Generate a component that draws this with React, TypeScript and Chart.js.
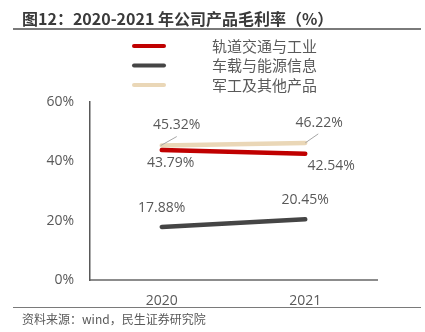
import { useEffect, useRef } from 'react';
import { Chart, registerables } from 'chart.js';

Chart.register(...registerables);

const categories = ['2020', '2021'];
const seriesNames = ['轨道交通与工业', '车载与能源信息', '军工及其他产品'];
const railValues = [43.79, 42.54];
const vehicleValues = [17.88, 20.45];
const militaryValues = [45.32, 46.22];
const yTickValues = [0, 20, 40, 60];

const titleText = '图12：2020-2021 年公司产品毛利率（%）';
const sourceText = '资料来源：wind，民生证券研究院';

const FONT = '"Open Sans", "Noto Sans CJK SC", sans-serif';
const CJK = '"Noto Sans CJK SC", sans-serif';
const TEXT = '#595959';

// label offsets (style) per dataset, per point
const labelOffsets = [
  [[9, 13], [26, 12]],
  [[0, -19], [0, -19]],
  [[15, -20.5], [14, -20]],
];

const labelPlugin = {
  id: 'valueLabels',
  afterDatasetsDraw(chart: any) {
    const ctx = chart.ctx;
    ctx.save();
    ctx.font = `14px ${FONT}`;
    ctx.fillStyle = TEXT;
    ctx.textAlign = 'center';
    ctx.textBaseline = 'middle';
    chart.data.datasets.forEach((ds: any, di: number) => {
      const meta = chart.getDatasetMeta(di);
      meta.data.forEach((pt: any, i: number) => {
        const [dx, dy] = labelOffsets[di][i];
        const v = ds.data[i] as number;
        ctx.fillText(v.toFixed(2) + '%', pt.x + dx, pt.y + dy);
        if (di === 2) {
          ctx.strokeStyle = '#a6a6a6';
          ctx.lineWidth = 1;
          ctx.beginPath();
          ctx.moveTo(pt.x + (i === 0 ? -1 : 0), pt.y);
          ctx.lineTo(pt.x + (i === 0 ? 15 : 13), pt.y - 9);
          ctx.stroke();
        }
      });
    });
    ctx.restore();
  },
};

const legendPlugin = {
  id: 'customLegend',
  afterDraw(chart: any) {
    const ctx = chart.ctx;
    ctx.save();
    chart.data.datasets.forEach((ds: any, i: number) => {
      const y = 46 + i * 19.5;
      ctx.strokeStyle = ds.borderColor;
      ctx.lineWidth = 4;
      ctx.lineCap = 'round';
      ctx.beginPath();
      ctx.moveTo(134, y);
      ctx.lineTo(164, y);
      ctx.stroke();
      ctx.font = `15px ${CJK}`;
      ctx.fillStyle = TEXT;
      ctx.textAlign = 'left';
      ctx.textBaseline = 'middle';
      ctx.fillText(ds.label, 212, y);
    });
    ctx.restore();
  },
};

export default function App() {
  const ref = useRef<HTMLCanvasElement>(null);
  useEffect(() => {
    if (!ref.current) return;
    const chart = new Chart(ref.current, {
      type: 'line',
      data: {
        labels: categories,
        datasets: [
          { label: seriesNames[0], data: railValues, borderColor: '#C00000' },
          { label: seriesNames[1], data: vehicleValues, borderColor: '#454545' },
          { label: seriesNames[2], data: militaryValues, borderColor: '#EAD7B7' },
        ].map((d) => ({
          ...d,
          borderWidth: 4.5,
          borderCapStyle: 'round' as const,
          pointRadius: 0,
          pointHoverRadius: 0,
          fill: false,
          tension: 0,
        })),
      },
      options: {
        responsive: false,
        animation: false,
        events: [],
        layout: { padding: { left: 0, top: 102, right: 48, bottom: 0 } },
        plugins: {
          legend: { display: false },
          tooltip: { enabled: false },
          title: { display: false },
        },
        scales: {
          x: {
            type: 'category',
            offset: true,
            grid: { display: false, drawTicks: false },
            border: { display: true, color: '#8c8c8c', width: 2 },
            ticks: { color: TEXT, font: { size: 14, family: FONT }, padding: 13 },
            afterFit: (s: any) => { s.height = 52; },
          },
          y: {
            min: 0,
            max: 60,
            afterBuildTicks: (s: any) => { s.ticks = yTickValues.map((v) => ({ value: v })); },
            grid: { display: false, drawTicks: false },
            border: { display: true, color: '#595959', width: 1.5 },
            ticks: {
              color: TEXT,
              font: { size: 14, family: FONT },
              padding: 16,
              callback: (v: any) => v + '%',
            },
            afterFit: (s: any) => { s.width = 90; },
          },
        },
      },
      plugins: [labelPlugin, legendPlugin],
    });
    return () => chart.destroy();
  }, []);

  return (
    <div style={{ position: 'fixed', left: 0, top: 0, width: 425, height: 332, background: '#fff' }}>
      <canvas ref={ref} width={425} height={332} style={{ position: 'absolute', left: 0, top: 0 }} />
      <div
        style={{
          position: 'absolute', left: 22, top: 8, fontSize: 16, lineHeight: '20px',
          fontWeight: 'bold', color: '#3a3a3a', fontFamily: CJK, whiteSpace: 'nowrap',
        }}
      >
        {titleText}
      </div>
      <div style={{ position: 'absolute', left: 13, top: 28, width: 408, borderTop: '2px solid #7a7a7a' }} />
      <div style={{ position: 'absolute', left: 13, top: 307, width: 408, borderTop: '1.5px solid #7a7a7a' }} />
      <div
        style={{
          position: 'absolute', left: 22, top: 310, fontSize: 12, lineHeight: '18px',
          color: TEXT, fontFamily: CJK, whiteSpace: 'nowrap',
        }}
      >
        {sourceText}
      </div>
    </div>
  );
}
